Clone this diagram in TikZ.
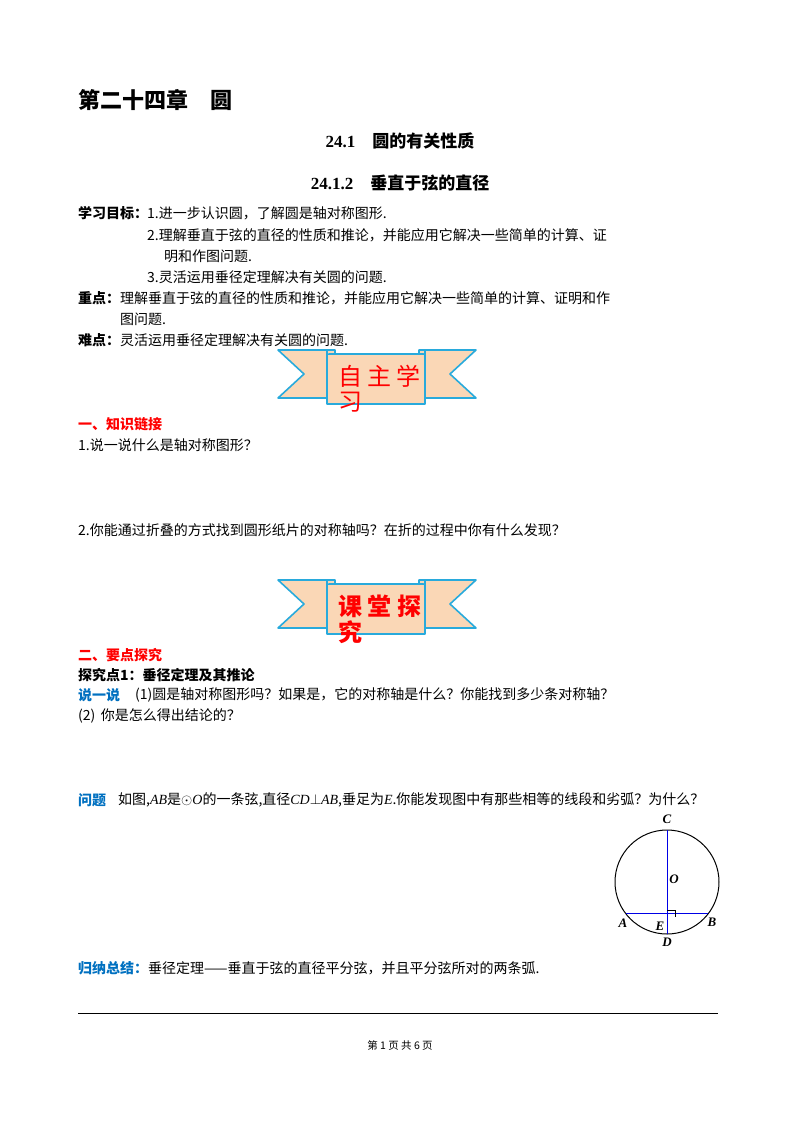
\documentclass[tikz,border=0pt]{standalone}
\usepackage{fontspec}
\usetikzlibrary{calc}
\setmainfont{Liberation Serif}
\newfontfamily\cjk{Noto Sans CJK SC}
\newcommand{\lt}[1]{{\rmfamily\itshape #1}}
\begin{document}
\begin{tikzpicture}[x=1pt,y=-1pt,
  t/.style={anchor=west,inner sep=0pt,font=\fontsize{14}{16}\selectfont\cjk},
  tb/.style={t,font=\fontsize{14}{16}\selectfont\cjk\bfseries},
  h/.style={inner sep=0pt,font=\fontsize{17}{20}\selectfont\bfseries},
  rb/.style={t,font=\fontsize{14}{16}\selectfont\cjk\bfseries,text=red},
  bl/.style={t,font=\fontsize{14}{16}\selectfont\cjk\bfseries,text=qblue},
  lab/.style={inner sep=0pt,font=\fontsize{13}{15}\selectfont\bfseries\itshape},
  band/.style={draw=bcyan,line width=1.6pt,fill=peach,line join=round}]
\definecolor{qblue}{RGB}{0,112,192}
\definecolor{bcyan}{RGB}{40,170,220}
\definecolor{peach}{RGB}{250,215,182}
\definecolor{cblue}{RGB}{0,0,230}
\useasboundingbox (0,0) rectangle (800,1132);
\node[t,font=\fontsize{22}{26}\selectfont\cjk\bfseries] (ch) at (78,100) {第二十四章\quad 圆};
\node[h] (s1) at (400,141) {24.1\quad {\cjk 圆的有关性质}};
\node[h] (s2) at (400,183) {24.1.2\quad {\cjk 垂直于弦的直径}};
\node[tb] (g0) at (78,213) {学习目标：};
\node[t] (g1) at (147,213) {1.进一步认识圆，了解圆是轴对称图形.};
\node[t] (g2) at (147,235) {2.理解垂直于弦的直径的性质和推论，并能应用它解决一些简单的计算、证};
\node[t] (g3) at (164,256) {明和作图问题.};
\node[t] (g4) at (147,277) {3.灵活运用垂径定理解决有关圆的问题.};
\node[tb] (z0) at (78,298) {重点：};
\node[t] (z1) at (120,298) {理解垂直于弦的直径的性质和推论，并能应用它解决一些简单的计算、证明和作};
\node[t] (z2) at (120,319) {图问题.};
\node[tb] (n0) at (78,340) {难点：};
\node[t] (n1) at (120,340) {灵活运用垂径定理解决有关圆的问题.};
% banners
\foreach \dy in {0,230}{
\begin{scope}[yshift=-\dy]
\draw[band] (278,350) -- (335,350) -- (335,398) -- (278,398) -- (304,374) -- cycle;
\draw[band] (476,350) -- (419,350) -- (419,398) -- (476,398) -- (450,374) -- cycle;
\draw[band] (327,354) rectangle (425,404);
\draw[band] (327,354) -- (327,350) -- (335,350);
\draw[band] (419,350) -- (425,350) -- (425,354);
\end{scope}}
\node[t,font=\fontsize{24}{26}\selectfont\cjk,text=red] (bt1) at (338,376) {自 主 学};
\node[t,font=\fontsize{24}{26}\selectfont\cjk,text=red] (bt1b) at (338,402) {习};
\node[t,font=\fontsize{24}{26}\selectfont\cjk\bfseries,text=red] (bt2) at (338,606) {课 堂 探};
\node[t,font=\fontsize{24}{26}\selectfont\cjk\bfseries,text=red] (bt2b) at (338,632) {究};
\node[rb] (k0) at (78,424) {一、知识链接};
\node[t] (k1) at (78,445) {1.说一说什么是轴对称图形？};
\node[t] (k2) at (78,530) {2.你能通过折叠的方式找到圆形纸片的对称轴吗？在折的过程中你有什么发现？};
\node[rb] (y0) at (78,655) {二、要点探究};
\node[tb] (y1) at (78,675) {探究点1：垂径定理及其推论};
\node[bl] (y2) at (78,695) {说一说};
\node[t] (y3) at (135,695) {(1)圆是轴对称图形吗？如果是，它的对称轴是什么？你能找到多少条对称轴？};
\node[t] (y4) at (78,716) {(2)\, 你是怎么得出结论的？};
\node[bl] (q0) at (78,800) {问题};
\node[t] (q1) at (118,800) {如图,\lt{AB}是$\odot$\lt{O}的一条弦,直径\lt{CD}$\perp$\lt{AB},垂足为\lt{E}.你能发现图中有那些相等的线段和劣弧？为什么？};
% circle
\coordinate (O) at (667,882);
\draw[line width=1pt] (O) circle (52);
\coordinate (C) at (667,830);
\coordinate (D) at (667,934);
\coordinate (A) at ($(O)+(142.5:51.5)$);
\coordinate (B) at ($(O)+(37.5:51.5)$);
\draw[cblue,line width=1pt] (C) -- (D);
\draw[cblue,line width=1.6pt] (A) -- (B);
\draw[line width=0.7pt] (667,910) -- (675,910) -- (675,917);
\node[lab] (lC) at (667,819) {C};
\node[lab] (lO) at (674,879) {O};
\node[lab] (lA) at (623,923) {A};
\node[lab] (lB) at (712,922) {B};
\node[lab] (lE) at (660,926) {E};
\node[lab] (lD) at (667,942) {D};
\node[bl] (s0) at (78,968) {归纳总结：};
\node[t] (s1t) at (148,968) {垂径定理——垂直于弦的直径平分弦，并且平分弦所对的两条弧.};
\coordinate (L1) at (78,1013); \coordinate (L2) at (718,1013);
\draw[line width=1pt] (L1) -- (L2);
\node[inner sep=0pt,font=\fontsize{10.5}{12}\selectfont\cjk] (pg) at (400,1045) {第 1 页 共 6 页};
\end{tikzpicture}
\end{document}
